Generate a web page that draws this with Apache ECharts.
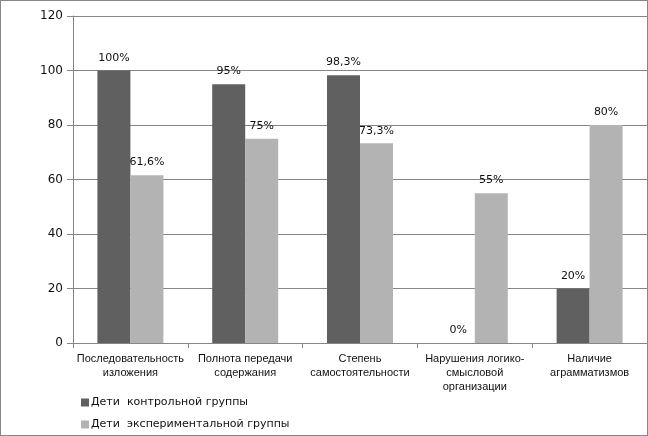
<!DOCTYPE html>
<html>
<head>
<meta charset="utf-8">
<script src="https://cdn.jsdelivr.net/npm/echarts@6/dist/echarts.min.js"></script>
<style>
html, body { margin: 0; padding: 0; background: #fff; }
#chart { width: 646px; height: 434px; border: 1px solid #868686; }
</style>
</head>
<body>
<div id="chart"></div>
<script>
// данные
var categories = [
	'Последовательность\nизложения',
	'Полнота передачи\nсодержания',
	'Степень\nсамостоятельности',
	'Нарушения логико-\nсмысловой\nорганизации',
	'Наличие\nаграмматизмов'
];
var controlValues = [100, 95, 98.3, 0, 20];
var controlLabels = ['100%', '95%', '98,3%', '0%', '20%'];
var expValues = [61.6, 75, 73.3, 55, 80];
var expLabels = ['61,6%', '75%', '73,3%', '55%', '80%'];
var seriesNames = ['Дети  контрольной группы', 'Дети  экспериментальной группы'];
var yTicks = [0, 20, 40, 60, 80, 100, 120];

var lineColor = '#868686';
var chart = echarts.init(document.getElementById('chart'));

function makeLabel(texts) {
	return {
		show: true,
		position: 'top',
		distance: 7,
		color: '#111',
		fontFamily: 'DejaVu Sans',
		fontSize: 11,
		formatter: function(p) {
			return texts[p.dataIndex];
		}
	};
}

var option = {
	animation: false,
	textStyle: { fontFamily: 'DejaVu Sans' },
	grid: {
		left: 72,
		right: 0,
		top: 15,
		bottom: 92
	},
	legend: {
		orient: 'vertical',
		left: 75,
		top: 391,
		itemWidth: 8,
		itemHeight: 8,
		itemGap: 11,
		icon: 'rect',
		textStyle: {
			fontFamily: 'DejaVu Sans',
			fontSize: 11,
			color: '#111',
			padding: [0, 0, 0, -3]
		},
		data: seriesNames
	},
	xAxis: {
		type: 'category',
		data: categories,
		axisLine: { lineStyle: { color: lineColor, width: 1 } },
		axisTick: { show: true, length: 5, lineStyle: { color: lineColor } },
		axisLabel: {
			interval: 0,
			margin: 9,
			color: '#111',
			fontFamily: 'Liberation Sans',
			fontSize: 11,
			lineHeight: 14
		}
	},
	yAxis: {
		type: 'value',
		min: 0,
		max: 120,
		interval: 20,
		axisLine: { show: true, lineStyle: { color: lineColor, width: 1 } },
		axisTick: { show: true, length: 6, lineStyle: { color: lineColor } },
		splitLine: { lineStyle: { color: lineColor, width: 1 } },
		axisLabel: {
			margin: 10,
			color: '#111',
			fontFamily: 'DejaVu Sans',
			fontSize: 12,
			formatter: function(v) {
				return yTicks.indexOf(v) >= 0 ? String(v) : '';
			}
		}
	},
	series: [{
		name: seriesNames[0],
		type: 'bar',
		barWidth: 33,
		barGap: '0%',
		itemStyle: { color: '#606060' },
		label: makeLabel(controlLabels),
		data: controlValues
	}, {
		name: seriesNames[1],
		type: 'bar',
		barWidth: 33,
		barGap: '0%',
		itemStyle: { color: '#b3b3b3' },
		label: makeLabel(expLabels),
		data: expValues
	}]
};
chart.setOption(option);
</script>
</body>
</html>
